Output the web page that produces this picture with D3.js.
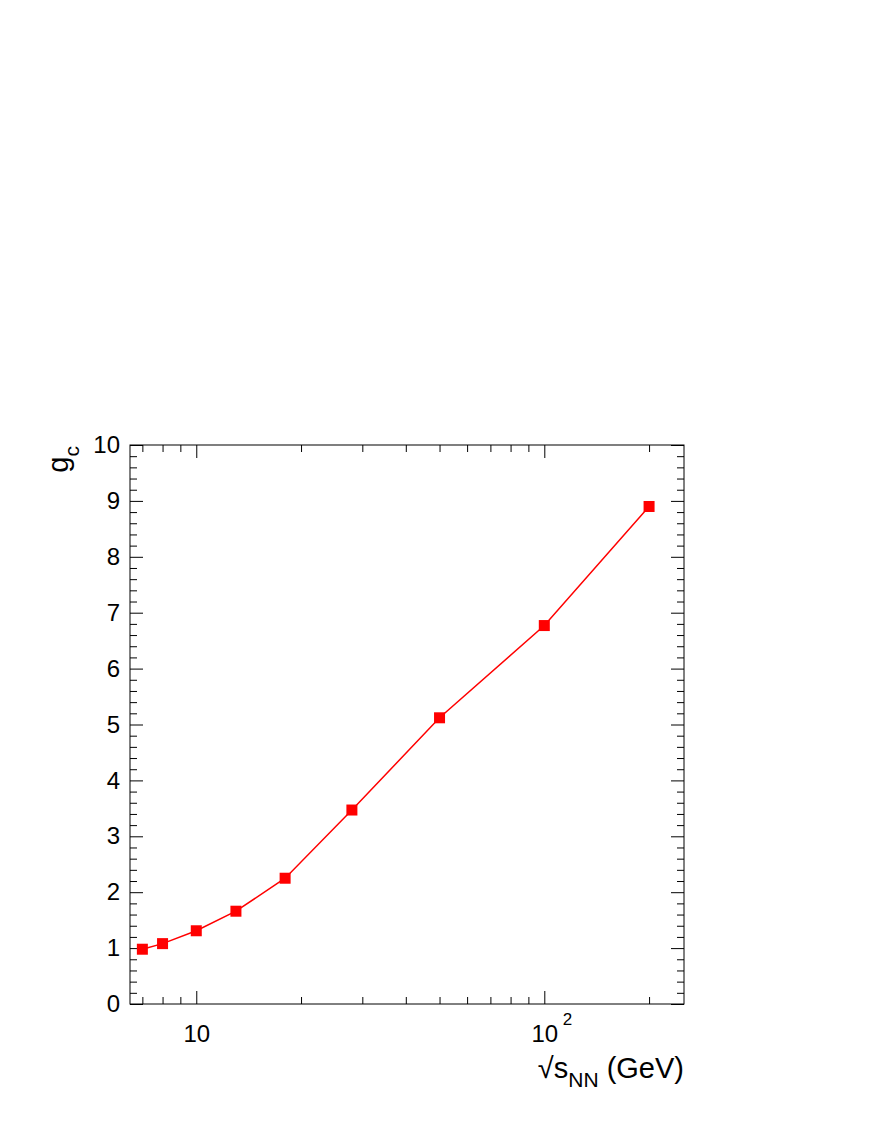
<!DOCTYPE html>
<html>
<head>
<meta charset="utf-8">
<script src="https://cdn.jsdelivr.net/npm/d3@7"></script>
<style>
  body { margin: 0; background: #fff; }
  text { font-family: "Liberation Sans", Arial, sans-serif; fill: #000; }
</style>
</head>
<body>
<svg id="chart" width="872" height="1128"></svg>
<script>
// sqrt(s_NN) in GeV and the g_c value read at each energy
var energies = [7, 8, 10, 13, 18, 28, 50, 100, 200];
var gc = [0.98, 1.08, 1.31, 1.66, 2.25, 3.47, 5.12, 6.77, 8.90];

// tick values
var xMajor = [10, 100];
var xMinor = [7, 8, 9, 20, 30, 40, 50, 60, 70, 80, 90, 200];
var yMajor = [0, 1, 2, 3, 4, 5, 6, 7, 8, 9, 10];
var yMinor = d3.range(0, 10.01, 0.2).filter(function(v) {
  return Math.abs(v - Math.round(v)) > 1e-6;
});

var frame = {left: 130, right: 684, top: 445, bottom: 1004};

var x = d3.scaleLog().domain([6.45, 252]).range([frame.left, frame.right]);
var y = d3.scaleLinear().domain([0, 10]).range([frame.bottom, frame.top]);

var svg = d3.select("#chart");

// axes: ticks all point inward, like ROOT does it
function ticks(axis, values, size) {
  return axis.tickValues(values).tickSize(size).tickFormat("");
}

var g = svg.append("g").attr("class", "axes");

// bottom
g.append("g").attr("transform", "translate(0," + frame.bottom + ")")
  .call(ticks(d3.axisBottom(x), xMinor, -7));
var xb = g.append("g").attr("transform", "translate(0," + frame.bottom + ")")
  .call(d3.axisBottom(x).tickValues(xMajor).tickSize(-13).tickPadding(21)
        .tickFormat(function(d) { return "10"; }));
// top
g.append("g").attr("transform", "translate(0," + frame.top + ")")
  .call(ticks(d3.axisTop(x), xMinor, -7));
g.append("g").attr("transform", "translate(0," + frame.top + ")")
  .call(ticks(d3.axisTop(x), xMajor, -13));
// left
g.append("g").attr("transform", "translate(" + frame.left + ",0)")
  .call(ticks(d3.axisLeft(y), yMinor, -7));
var yl = g.append("g").attr("transform", "translate(" + frame.left + ",0)")
  .call(d3.axisLeft(y).tickValues(yMajor).tickSize(-13).tickPadding(10));
// right
g.append("g").attr("transform", "translate(" + frame.right + ",0)")
  .call(ticks(d3.axisRight(y), yMinor, -7));
g.append("g").attr("transform", "translate(" + frame.right + ",0)")
  .call(ticks(d3.axisRight(y), yMajor, -13));

g.selectAll(".domain").remove();
g.selectAll(".tick line").attr("stroke", "#000").attr("stroke-width", 1);
g.selectAll(".tick text").attr("font-size", 24)
  .attr("font-family", "Liberation Sans, Arial, sans-serif");

// 10^2 : exponent next to the label
xb.selectAll(".tick").filter(function(d) { return d === 100; })
  .append("text")
  .attr("x", 18).attr("y", 21).attr("dy", "0.71em")
  .attr("font-size", 17).attr("text-anchor", "start")
  .attr("font-family", "Liberation Sans, Arial, sans-serif")
  .attr("fill", "#000")
  .attr("transform", "translate(0,-12)")
  .text("2");

// frame
svg.append("rect")
  .attr("x", frame.left).attr("y", frame.top)
  .attr("width", frame.right - frame.left)
  .attr("height", frame.bottom - frame.top)
  .attr("fill", "none").attr("stroke", "#000").attr("stroke-width", 1);

// data line + markers
var pts = energies.map(function(e, i) { return [e, gc[i]]; });

svg.append("path")
  .datum(pts)
  .attr("fill", "none")
  .attr("stroke", "#ff0000")
  .attr("stroke-width", 1.5)
  .attr("d", d3.line()
    .x(function(d) { return x(d[0]); })
    .y(function(d) { return y(d[1]); }));

svg.selectAll("rect.marker")
  .data(pts)
  .enter().append("rect")
  .attr("class", "marker")
  .attr("x", function(d) { return x(d[0]) - 5.5; })
  .attr("y", function(d) { return y(d[1]) - 5.5; })
  .attr("width", 11).attr("height", 11)
  .attr("fill", "#ff0000");

// axis titles
var xt = svg.append("text")
  .attr("x", frame.right).attr("y", 1078)
  .attr("text-anchor", "end")
  .attr("font-size", 29);
xt.append("tspan").text("\u221As");
xt.append("tspan").attr("font-size", 21).attr("dy", 9).text("NN");
xt.append("tspan").attr("dy", -9).text(" (GeV)");

var yt = svg.append("text")
  .attr("transform", "translate(68,446) rotate(-90)")
  .attr("text-anchor", "end")
  .attr("font-size", 29);
yt.append("tspan").text("g");
yt.append("tspan").attr("font-size", 21).attr("dy", 11).text("c");
</script>
</body>
</html>
